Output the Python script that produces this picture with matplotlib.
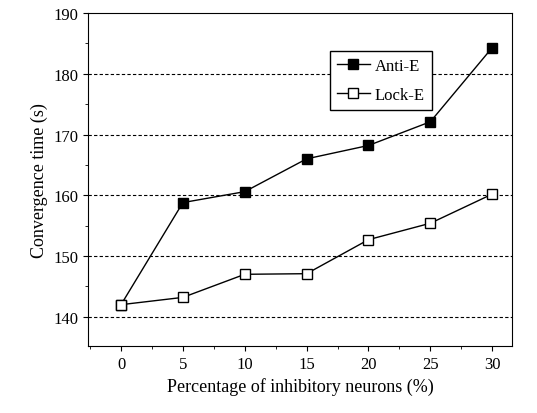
import matplotlib
matplotlib.use("Agg")
import matplotlib.pyplot as plt
from matplotlib.ticker import MultipleLocator

plt.rcParams['font.family'] = ['Liberation Serif', 'DejaVu Serif']

x = [0, 5, 10, 15, 20, 25, 30]
anti_e = [142.0, 158.8, 160.6, 166.0, 168.2, 172.1, 184.3]
lock_e = [142.0, 143.2, 147.0, 147.1, 152.7, 155.4, 160.2]

fig = plt.figure(figsize=(5.37, 4.14), dpi=100)
ax = fig.add_axes([88/537, 1-347/414, (512-88)/537, (347-14)/414])
for yv in [140, 150, 160, 170, 180]:
    ax.axhline(yv, color='black', ls=(0, (3, 2)), lw=0.8, zorder=0)
ax.plot(x, anti_e, '-s', color='black', mfc='black', ms=6.5, lw=1, label='Anti-E')
ax.plot(x, lock_e, '-s', color='black', mfc='white', ms=6.5, lw=1, label='Lock-E')
ax.set_xlim(-2.67, 31.6)
ax.set_ylim(135.2, 190)
ax.set_xticks(x)
ax.set_yticks([140, 150, 160, 170, 180, 190])
ax.xaxis.set_minor_locator(MultipleLocator(2.5))
ax.yaxis.set_minor_locator(MultipleLocator(5))
ax.tick_params(which='both', direction='out', top=False, right=False, labelsize=12)
ax.set_xlabel('Percentage of inhibitory neurons (%)', fontsize=13)
ax.set_ylabel('Convergence time (s)', fontsize=13)
ax.legend(loc='upper right', bbox_to_anchor=(0.83, 0.91), fontsize=12, frameon=True,
          fancybox=False, edgecolor='black', handlelength=2, borderpad=0.4,
          labelspacing=0.8, handletextpad=0.3, framealpha=1)
fig.savefig('out.png', dpi=100)
